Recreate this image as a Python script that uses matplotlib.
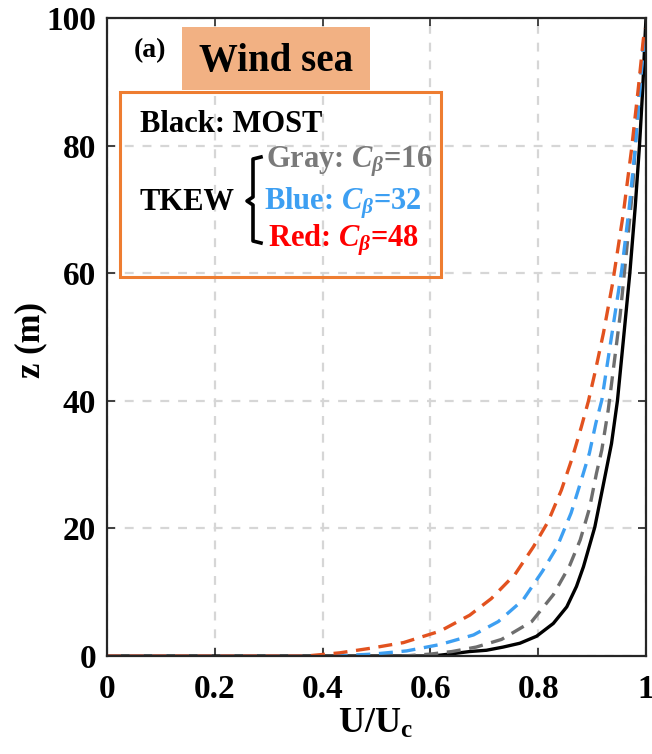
import matplotlib
matplotlib.use("Agg")
import matplotlib.pyplot as plt
from matplotlib.patches import Rectangle
from matplotlib.lines import Line2D

plt.rcParams['font.family'] = ['Liberation Serif', 'DejaVu Serif']
plt.rcParams['font.weight'] = 'bold'
plt.rcParams['mathtext.fontset'] = 'custom'
plt.rcParams['mathtext.rm'] = 'Liberation Serif:bold'
plt.rcParams['mathtext.bf'] = 'Liberation Serif:bold'
plt.rcParams['mathtext.it'] = 'Liberation Serif:bold:italic'

# Normalized wind speed profiles U/Uc versus height z (m)
most_u = [0, 0.60, 0.62, 0.645, 0.673, 0.704, 0.735, 0.766, 0.797, 0.828,
          0.853, 0.871, 0.884, 0.905, 0.920, 0.936, 0.947, 0.958, 0.970,
          0.980, 0.988, 0.994, 0.998, 1.0]
most_z = [0, 0, 0.15, 0.4, 0.7, 0.9, 1.4, 2.0, 3.1, 5.1,
          7.7, 10.9, 14.0, 20.2, 26.5, 33.3, 40.0, 49.5, 60.0,
          70.4, 80.1, 89.0, 96.6, 100.0]

cb16_u = [0, 0.55, 0.60, 0.64, 0.685, 0.732, 0.788, 0.828, 0.858, 0.878,
          0.895, 0.908, 0.918, 0.930, 0.937, 0.952, 0.964, 0.975, 0.982,
          0.990, 0.997]
cb16_z = [0, 0, 0.3, 0.7, 1.4, 2.6, 5.4, 9.6, 14.1, 18.2,
          23.1, 28.6, 32.3, 38.6, 43.3, 53.4, 63.6, 73.0, 82.4,
          90.8, 97.5]

cb32_u = [0, 0.42, 0.494, 0.556, 0.618, 0.680, 0.726, 0.772, 0.808, 0.835,
          0.861, 0.879, 0.895, 0.907, 0.918, 0.935, 0.955, 0.969, 0.980,
          0.989, 0.997]
cb32_z = [0, 0, 0.3, 0.8, 1.8, 3.3, 5.4, 8.8, 13.3, 17.1,
          22.4, 27.3, 31.8, 36.5, 40.1, 49.5, 60.5, 70.4, 79.6,
          89.2, 97.0]

cb48_u = [0, 0.37, 0.432, 0.488, 0.550, 0.618, 0.673, 0.713, 0.757, 0.791,
          0.818, 0.843, 0.863, 0.880, 0.893, 0.905, 0.921, 0.938, 0.958,
          0.973, 0.986, 0.995, 0.998]
cb48_z = [0, 0, 0.5, 1.2, 2.1, 3.9, 6.4, 9.0, 12.8, 17.1,
          21.0, 26.0, 31.0, 35.9, 39.9, 44.3, 50.6, 58.4, 69.4,
          79.3, 89.2, 96.6, 98.4]

x_ticks = [0, 0.2, 0.4, 0.6, 0.8, 1]
x_ticklabels = ['0', '0.2', '0.4', '0.6', '0.8', '1']
y_ticks = [0, 20, 40, 60, 80, 100]

W, H = 652, 754
fig = plt.figure(figsize=(W / 100, H / 100), dpi=100)
ax = fig.add_axes([107 / W, 1 - 656 / H, (646 - 107) / W, (656 - 18) / H])

ax.grid(True, color='#d6d6d6', linestyle=(0, (4, 4)), linewidth=1.6)
ax.set_axisbelow(True)

dash = (0, (4.2, 2.6))
ax.plot(most_u, most_z, color='black', linewidth=2.4, solid_joinstyle='round')
ax.plot(cb16_u, cb16_z, color='#6e6e6e', linewidth=2.4, linestyle=dash)
ax.plot(cb32_u, cb32_z, color='#3d9ff2', linewidth=2.4, linestyle=dash)
ax.plot(cb48_u, cb48_z, color='#e2521f', linewidth=2.4, linestyle=dash)

ax.set_xlim(0, 1)
ax.set_ylim(0, 100)
ax.set_xticks(x_ticks)
ax.set_xticklabels(x_ticklabels)
ax.set_yticks(y_ticks)
ax.tick_params(direction='in', length=6, width=1.2, top=True, right=True,
               labelsize=24, colors='#262626')
ax.tick_params(axis='x', pad=13)
ax.tick_params(axis='y', pad=8)
for lab in ax.get_xticklabels() + ax.get_yticklabels():
    lab.set_fontweight('bold')
    lab.set_color('black')
for sp in ax.spines.values():
    sp.set_linewidth(1.6)
    sp.set_color('#262626')

fig.text(376 / W, 1 - 724 / H, r'U/U$_{\mathbf{c}}$', fontsize=26,
         fontweight='bold', ha='center', va='center')
fig.text(31 / W, 1 - 340 / H, 'z (m)', fontsize=25, fontweight='bold',
         ha='center', va='center', rotation=90)

# Overlay in pixel coordinates for the annotation boxes
ov = fig.add_axes([0, 0, 1, 1], facecolor='none')
ov.set_xlim(0, W)
ov.set_ylim(H, 0)
ov.axis('off')

ov.add_patch(Rectangle((182, 27), 188, 63, facecolor='#f2b183',
                       edgecolor='none', zorder=2))
ov.add_patch(Rectangle((120, 92), 321, 185, facecolor='none',
                       edgecolor='#ee7d31', linewidth=2.2, zorder=3))

ov.text(134, 51, '(a)', fontsize=20, fontweight='bold', ha='left', va='center')
ov.text(276, 61, 'Wind sea', fontsize=28, fontweight='bold',
        ha='center', va='center', zorder=4)
ov.text(140, 124, 'Black: MOST', fontsize=22, fontweight='bold',
        ha='left', va='center')
ov.text(140, 203, 'TKEW', fontsize=22, fontweight='bold',
        ha='left', va='center')
ov.text(266, 162, r'Gray: $C_{\beta}$=16', fontsize=22, fontweight='bold',
        color='#7a7a7a', ha='left', va='center')
ov.text(264, 203, r'Blue: $C_{\beta}$=32', fontsize=22, fontweight='bold',
        color='#3d9ff2', ha='left', va='center')
ov.text(268, 240, r'Red: $C_{\beta}$=48', fontsize=22, fontweight='bold',
        color='#ff0000', ha='left', va='center')

# curly brace grouping the TKEW entries
brace_x = [261, 253, 253, 247, 253, 253, 261]
brace_y = [157, 159, 197, 201, 205, 241, 243]
ov.add_line(Line2D(brace_x, brace_y, color='black', linewidth=2.6,
                   solid_joinstyle='round'))

fig.savefig('out.png', dpi=100)
